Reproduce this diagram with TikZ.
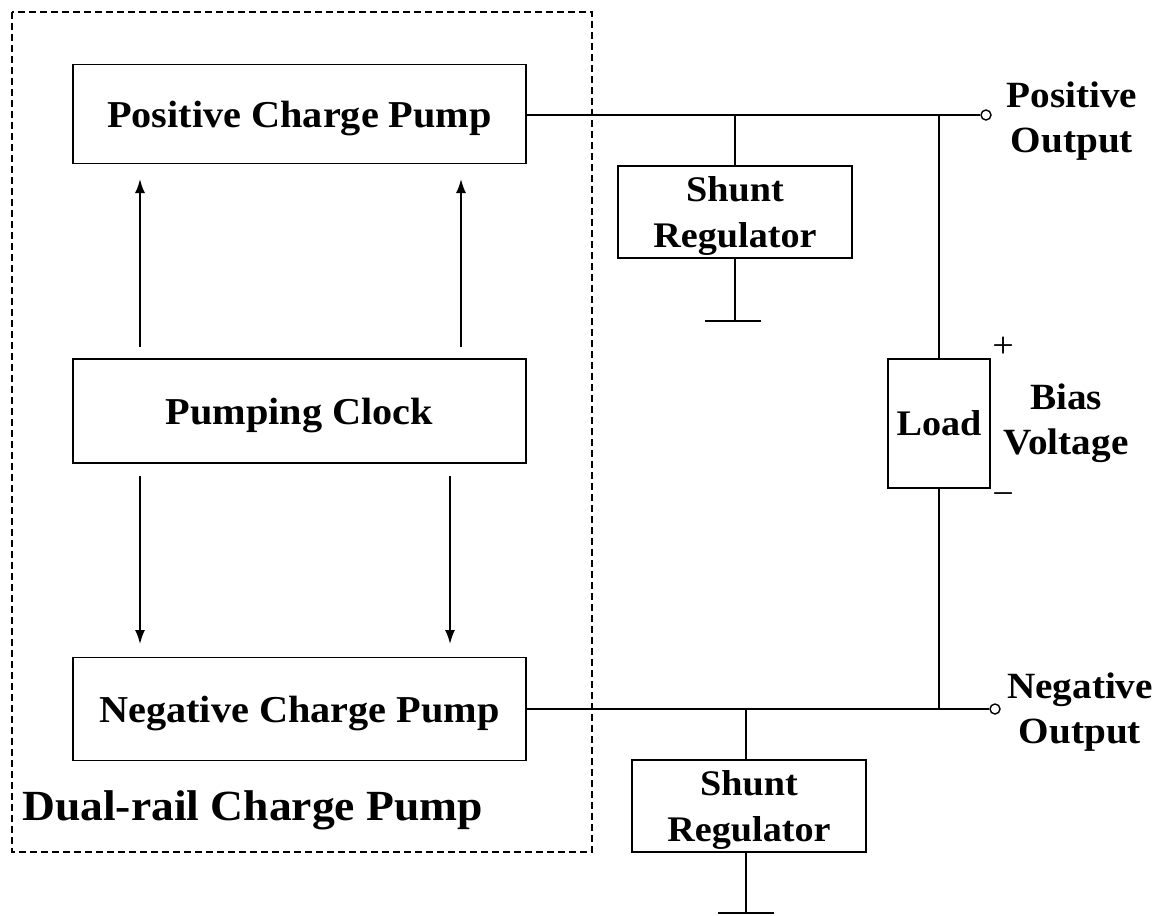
\documentclass[tikz,border=0pt]{standalone}
\usepackage{fontspec}
\setmainfont{Liberation Serif}[FakeStretch=1.06]
\usetikzlibrary{arrows.meta}
\begin{document}
\begin{tikzpicture}[x=1pt,y=-1pt,
  blk/.style={draw, line width=1.9pt, rectangle, inner sep=0pt, font=\bfseries\fontsize{38}{45}\selectfont, align=center},
  one/.style={text depth=0pt},
  wire/.style={line width=1.9pt},
  arr/.style={line width=1.8pt, -{Latex[length=14pt,width=10pt]}},
  lbl/.style={font=\bfseries\fontsize{37}{45}\selectfont, align=center, inner sep=0pt},
  term/.style={circle, draw, line width=1.4pt, minimum size=10pt, inner sep=0pt, fill=white}
]
\useasboundingbox (0,0) rectangle (1174,915);
% dashed container
\draw[line width=1.3pt, dash pattern=on 7pt off 4pt] (12,12) rectangle (592,852);
\node[lbl, font=\bfseries\fontsize{43}{50}\selectfont, anchor=west] (dual) at (22,810) {Dual-rail Charge Pump};
% blocks
\node[blk, one, minimum width=453pt, minimum height=99pt] (pcp) at (299.5,114) {Positive Charge Pump};
\node[blk, one, minimum width=453pt, minimum height=104pt] (clk) at (299.5,411) {Pumping Clock};
\node[blk, one, minimum width=453pt, minimum height=103pt] (ncp) at (299.5,709) {Negative Charge Pump};
\node[blk, one, font=\bfseries\fontsize{36}{46}\selectfont, minimum width=234pt, minimum height=92pt] (sh1) at (735,212) {Shunt\\Regulator};
\node[blk, one, font=\bfseries\fontsize{36}{46}\selectfont, minimum width=234pt, minimum height=92pt] (sh2) at (749,806) {Shunt\\Regulator};
\node[blk, one, font=\bfseries\fontsize{36}{46}\selectfont, minimum width=102pt, minimum height=129pt] (load) at (939,423.5) {Load};
% arrows
\coordinate (u1s) at (140,347); \coordinate (u1e) at (140,179);
\coordinate (u2s) at (461,347); \coordinate (u2e) at (461,179);
\coordinate (d1s) at (140,476); \coordinate (d1e) at (140,644);
\coordinate (d2s) at (450,476); \coordinate (d2e) at (450,644);
\draw[arr] (u1s) -- (u1e);
\draw[arr] (u2s) -- (u2e);
\draw[arr] (d1s) -- (d1e);
\draw[arr] (d2s) -- (d2e);
% terminals
\node[term] (pout) at (986,115) {};
\node[term] (nout) at (995,709) {};
\coordinate (pj) at (735,115);
\coordinate (pr) at (939,115);
\coordinate (nj) at (746,709);
\coordinate (nr) at (939,709);
% rails
\draw[wire] (pcp.east |- pj) -- (pout.west);
\draw[wire] (ncp.east |- nj) -- (nout.west);
\draw[wire] (pj) -- (sh1.north);
\draw[wire] (nj) -- (nj |- sh2.north);
\draw[wire] (pr) -- (load.north);
\draw[wire] (load.south) -- (nr);
% grounds
\coordinate (g1) at (735,321); \coordinate (g1a) at (705,321); \coordinate (g1b) at (761,321);
\draw[wire] (sh1.south) -- (g1);
\draw[wire] (g1a) -- (g1b);
\coordinate (g2) at (746,913); \coordinate (g2a) at (718,913); \coordinate (g2b) at (774,913);
\draw[wire] (nj |- sh2.south) -- (g2);
\draw[wire] (g2a) -- (g2b);
% labels
\node[lbl] (posout) at (1072,121) {Positive\\Output};
\node[lbl] (negout) at (1080,712) {Negative\\Output};
\node[lbl] (bias) at (1066,423) {Bias\\Voltage};
\node[font=\fontsize{36}{40}\selectfont, inner sep=0pt] (plus) at (1003,347) {+};
\node[font=\fontsize{36}{40}\selectfont, inner sep=0pt] (minus) at (1003,499) {−};
\end{tikzpicture}
\end{document}
